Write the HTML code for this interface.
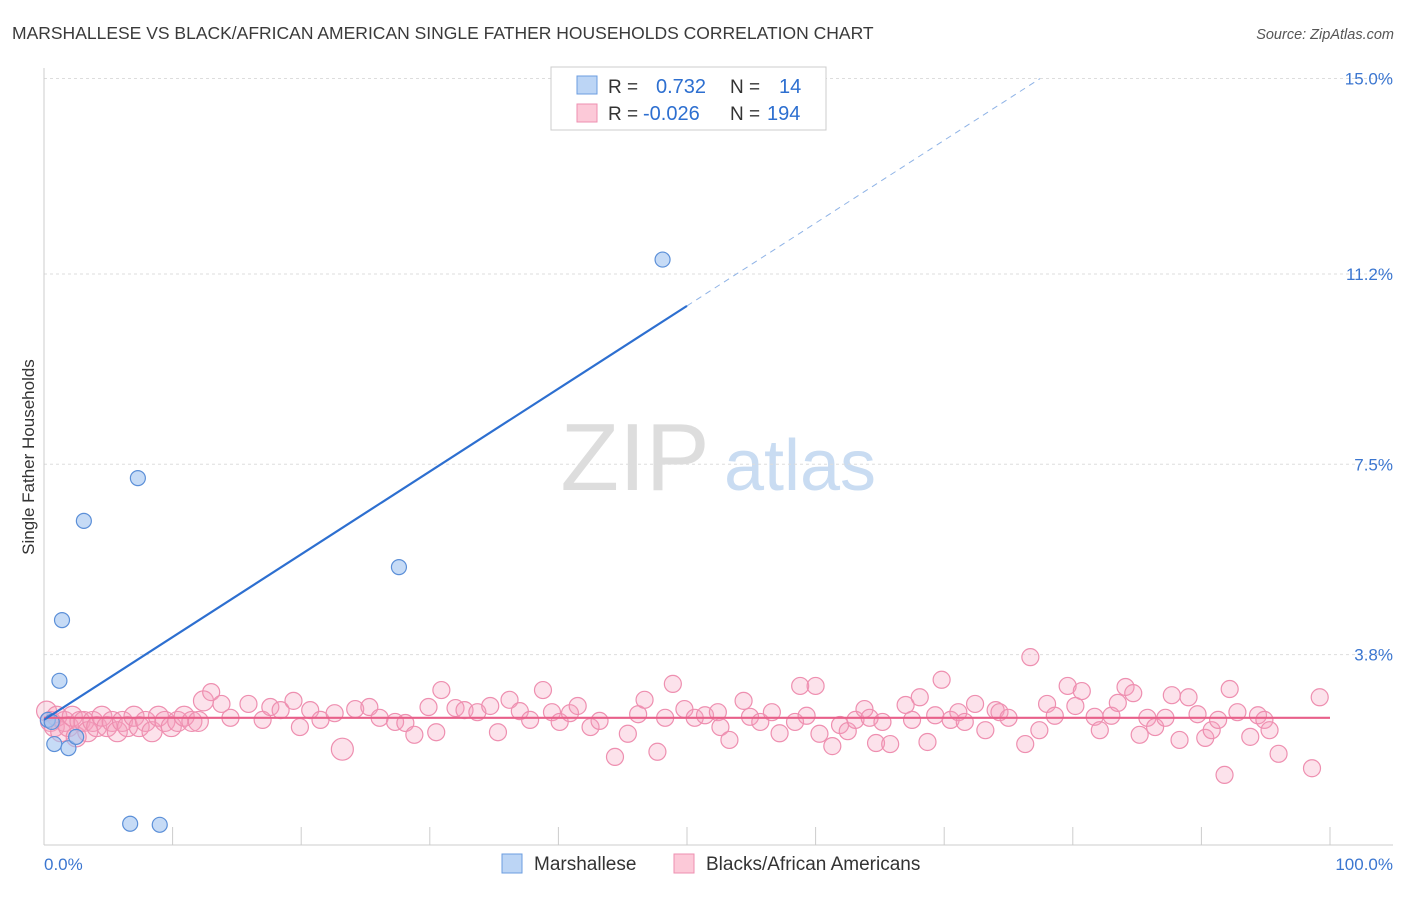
<!DOCTYPE html>
<html><head><meta charset="utf-8"><style>
body{margin:0;background:#fff;font-family:"Liberation Sans",sans-serif;}
svg text{font-family:"Liberation Sans",sans-serif;}
</style></head><body>
<svg id="chart" width="1406" height="892" viewBox="0 0 1406 892" xmlns="http://www.w3.org/2000/svg">
<text x="12" y="39" font-size="17.5" fill="#3a3a3a">MARSHALLESE VS BLACK/AFRICAN AMERICAN SINGLE FATHER HOUSEHOLDS CORRELATION CHART</text>
<text x="1394" y="39" font-size="14.5" fill="#555" text-anchor="end" font-style="italic">Source: ZipAtlas.com</text>
<g>
<text x="635" y="490" font-size="96" fill="#ddd" text-anchor="middle" font-family="Liberation Serif,serif">ZIP</text>
<text x="800" y="490" font-size="72" fill="#c9dcf2" text-anchor="middle">atlas</text>
</g>
<g id="grid"></g>
<g id="axes"></g>
<g id="pts"></g>
<g id="lines"></g>
<text transform="translate(34,457) rotate(-90)" font-size="17" fill="#333" text-anchor="middle">Single Father Households</text>
<g>
<rect x="551" y="67" width="275" height="63" fill="#fff" stroke="#ccc"/>
<rect x="577" y="76" width="20" height="18" fill="#bcd5f5" stroke="#6b9de0"/>
<rect x="577" y="104" width="20" height="18" fill="#fcc9d8" stroke="#ee8fb0"/>
<text x="608" y="93" font-size="19" fill="#333">R =</text>
<text x="656" y="93" font-size="20" fill="#2d6fd0">0.732</text>
<text x="730" y="93" font-size="19" fill="#333">N =</text>
<text x="779" y="93" font-size="20" fill="#2d6fd0">14</text>
<text x="608" y="120" font-size="19" fill="#333">R =</text>
<text x="643" y="120" font-size="20" fill="#2d6fd0">-0.026</text>
<text x="730" y="120" font-size="19" fill="#333">N =</text>
<text x="767" y="120" font-size="20" fill="#2d6fd0">194</text>
</g>
<g>
<rect x="502" y="854" width="20" height="19" fill="#bcd5f5" stroke="#6b9de0"/>
<text x="534" y="870" font-size="19" fill="#333">Marshallese</text>
<rect x="674" y="854" width="20" height="19" fill="#fcc9d8" stroke="#ee8fb0"/>
<text x="706" y="870" font-size="19" fill="#333">Blacks/African Americans</text>
</g>
</svg>
<script>
const yTicks=[3.8,7.5,11.2,15.0];
const yTickLabels=["3.8%","7.5%","11.2%","15.0%"];
const xTickLabels=["0.0%","100.0%"];
const blueX=[0.3,0.6,0.8,1.4,1.2,1.9,2.5,3.1,7.3,6.7,9.0,27.6,48.1];
const blueY=[2.53,2.49,2.06,4.47,3.29,1.98,2.20,6.40,7.23,0.51,0.49,5.50,11.48];
const blueTrend=[2.53,0.161]; // intercept, slope
const pinkTrend=[2.57,0.0];
const pinkX=[0.2,0.5,0.8,1.0,1.3,1.6,1.9,2.2,2.5,2.8,3.1,3.4,3.8,4.1,4.5,4.9,5.3,5.7,6.1,6.5,7.0,7.4,7.9,8.4,8.9,9.4,9.9,10.4,10.9,11.5,12.0,12.4,13.0,13.8,14.5,15.9,17.0,17.6,18.4,19.4,19.9,20.7,21.5,22.6,23.2,24.2,25.3,26.1,27.3,28.1,28.8,29.9,30.5,30.9,32.0,32.7,33.7,34.7,35.3,36.2,37.0,37.8,38.8,39.5,40.1,40.9,41.5,42.5,43.2,44.4,45.4,46.2,46.7,47.7,48.3,48.9,49.8,50.6,51.4,52.4,52.6,53.3,54.4,54.9,55.7,56.6,57.2,58.4,58.8,59.3,60.0,60.3,61.3,61.9,62.5,63.1,63.8,64.2,64.7,65.2,65.8,67.0,67.5,68.1,68.7,69.3,69.8,70.5,71.1,71.6,72.4,73.2,74.0,74.3,75.0,76.3,76.7,77.4,78.0,78.6,79.6,80.2,80.7,81.7,82.1,83.0,83.5,84.1,84.7,85.2,85.8,86.4,87.2,87.7,88.3,89.0,89.7,90.3,90.8,91.3,91.8,92.2,92.8,93.8,94.4,94.9,95.3,96.0,98.6,99.2];
const pinkY=[2.7,2.5,2.4,2.6,2.3,2.5,2.4,2.6,2.2,2.5,2.5,2.3,2.5,2.4,2.6,2.4,2.5,2.3,2.5,2.4,2.6,2.4,2.5,2.3,2.6,2.5,2.4,2.5,2.6,2.5,2.5,2.9,3.07,2.84,2.57,2.84,2.53,2.78,2.72,2.90,2.39,2.72,2.53,2.66,1.96,2.74,2.78,2.57,2.49,2.47,2.24,2.78,2.29,3.11,2.76,2.72,2.68,2.80,2.29,2.92,2.70,2.53,3.11,2.68,2.49,2.66,2.80,2.39,2.51,1.81,2.26,2.64,2.92,1.91,2.57,3.23,2.74,2.57,2.62,2.68,2.39,2.14,2.90,2.59,2.49,2.68,2.27,2.49,3.19,2.61,3.19,2.26,2.02,2.43,2.31,2.53,2.74,2.57,2.08,2.49,2.06,2.82,2.53,2.97,2.10,2.62,3.31,2.53,2.68,2.49,2.84,2.33,2.72,2.68,2.57,2.06,3.75,2.33,2.84,2.61,3.19,2.80,3.09,2.59,2.33,2.61,2.86,3.17,3.05,2.24,2.57,2.39,2.57,3.01,2.14,2.97,2.64,2.18,2.33,2.53,1.46,3.13,2.68,2.20,2.62,2.53,2.33,1.87,1.59,2.97];
const X0=44,X1=1330,YB=850,K=51.43;
const sx=v=>X0+(X1-X0)*v/100;
const sy=v=>YB-K*v;
const NS="http://www.w3.org/2000/svg";
function mk(tag,attrs,parent){const e=document.createElementNS(NS,tag);for(const k in attrs)e.setAttribute(k,attrs[k]);parent.appendChild(e);return e;}
const grid=document.getElementById('grid'),axes=document.getElementById('axes'),pts=document.getElementById('pts'),lines=document.getElementById('lines');
yTicks.forEach((t,i)=>{
 const g=mk('line',{x1:44,x2:1393,y1:sy(t),y2:sy(t),stroke:'#ddd','stroke-dasharray':'3,3'},grid);
 
 
 const l=mk('text',{x:1393,y:sy(t)+6,'font-size':17,fill:'#3b76d0','text-anchor':'end'},axes);
 l.textContent=yTickLabels[i];
 
 
});
const ya=mk('line',{x1:44,x2:44,y1:68,y2:845,stroke:'#ccc'},axes);


const xa=mk('line',{x1:44,x2:1393,y1:845,y2:845,stroke:'#ccc'},axes);


for(let i=0;i<=10;i++){
 const t=mk('line',{x1:sx(i*10),x2:sx(i*10),y1:827,y2:845,stroke:'#ccc'},axes);
 
 
}
const xl0=mk('text',{x:44,y:870,'font-size':17,fill:'#3b76d0'},axes);xl0.textContent=xTickLabels[0];


const xl1=mk('text',{x:1393,y:870,'font-size':17,fill:'#3b76d0','text-anchor':'end'},axes);xl1.textContent=xTickLabels[1];


pinkX.forEach((x,i)=>{
 const r=(x<13)?10:(pinkY[i]<2.0&&x>20&&x<25?11:8.5);
 const c=mk('circle',{cx:sx(x),cy:sy(pinkY[i]),r:r,fill:'rgba(246,160,190,0.3)',stroke:'#ee8fb0','stroke-width':1.2},pts);
 
 
});
blueX.forEach((x,i)=>{
 const c=mk('circle',{cx:sx(x),cy:sy(blueY[i]),r:7.5,fill:'rgba(160,195,240,0.6)',stroke:'#5b8fd8','stroke-width':1.2},pts);
 
 
});
const pl=mk('line',{x1:sx(0),x2:sx(100),y1:sy(pinkTrend[0]),y2:sy(pinkTrend[0]+pinkTrend[1]*100),stroke:'#e8608a','stroke-width':2.2},lines);


const bEnd=50, bTop=(15-blueTrend[0])/blueTrend[1];
const bl=mk('line',{x1:sx(0),x2:sx(bEnd),y1:sy(blueTrend[0]),y2:sy(blueTrend[0]+blueTrend[1]*bEnd),stroke:'#2d6fd0','stroke-width':2.2},lines);


const bd=mk('line',{x1:sx(bEnd),x2:sx(bTop),y1:sy(blueTrend[0]+blueTrend[1]*bEnd),y2:sy(15),stroke:'#8fb3e6','stroke-width':1,'stroke-dasharray':'6,5'},lines);


</script>
</body></html>
